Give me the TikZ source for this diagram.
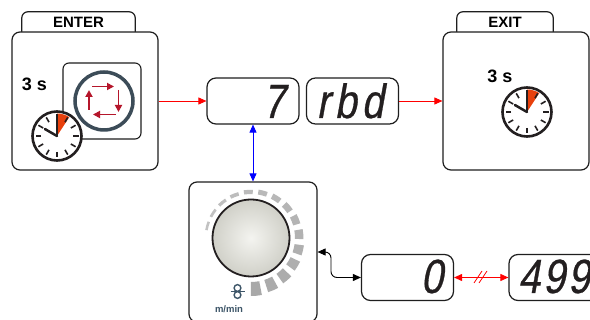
\documentclass[tikz,border=0pt]{standalone}
\usepackage{fontspec}
\setmainfont{Liberation Sans}
\newfontfamily\segfont[FakeSlant=0.18,FakeStretch=0.82,FakeBold=0.6]{Liberation Sans}
\usetikzlibrary{arrows.meta,calc}
\definecolor{clk}{HTML}{231F20}
\definecolor{wedgecol}{HTML}{E8400C}
\definecolor{slate}{HTML}{3C4C58}
\definecolor{cyc}{HTML}{B5162B}
\definecolor{wire}{HTML}{3D5568}
\definecolor{boxline}{HTML}{1E1E1E}
\definecolor{knobin}{HTML}{F4F4F0}
\definecolor{knobout}{HTML}{D0D0C8}
\tikzset{
  box/.style={draw=boxline, line width=1.2pt, rounded corners=8pt, fill=white, inner sep=0pt},
  dispbox/.style={box, minimum width=92pt, minimum height=46pt, rounded corners=9pt},
  segtext/.style={font=\segfont\fontsize{48}{48}\selectfont, text=clk, inner sep=0pt},
  tabtext/.style={font=\bfseries\fontsize{15}{15}\selectfont, inner sep=0pt, minimum height=20pt},
  tabline/.style={draw=boxline, line width=1.2pt, rounded corners=6pt},
  secs/.style={font=\bfseries\fontsize{18}{18}\selectfont, inner sep=0pt},
  redarrow/.style={draw=red, line width=0.9pt, -{Triangle[length=8pt,width=7pt]}},
  cycarrow/.style={draw=cyc, line width=1.8pt, -{Triangle[length=7pt,width=7pt]}},
  clockpic/.pic={
    \begin{scope}[x=1pt,y=1pt]
      \draw[draw=clk, line width=2.6pt, fill=white] (0,0) circle (24.5);
      \fill[wedgecol] (0,0) -- (90:22.5) arc (90:57:22.5) -- cycle;
      \foreach \a in {0,30,...,330} \draw[clk, line width=1.6pt] (\a:16) -- (\a:21.5);
      \draw[clk, line width=2.5pt, line cap=round] (0,0) -- (150:14);
      \draw[clk, line width=2pt] (0,0) -- (90:21.5);
    \end{scope}
  }
}
\begin{document}
\begin{tikzpicture}[x=1pt,y=-1pt]
\useasboundingbox (0,0) rectangle (590,320);
\fill[white] (0,0) rectangle (590,320);

% ENTER box
\node[tabtext, minimum width=113pt] (entertab) at (78.5,22) {ENTER};
\draw[tabline] (entertab.south west) -- (entertab.north west) -- (entertab.north east) -- (entertab.south east);
\node[box, minimum width=146pt, minimum height=138pt] (enter) at (85,101) {};
\node[secs] (entersec) at (34.5,84) {3 s};
\node[box, rounded corners=6pt, line width=1.1pt, minimum width=78pt, minimum height=76pt] (cycbox) at (102,101) {};
\draw[slate, line width=3.5pt] (104,101) circle (29);
\draw[cycarrow] (92,86.5) -- (114,86.5);
\draw[cycarrow] (118.5,90) -- (118.5,112);
\draw[cycarrow] (115.5,114.5) -- (93,114.5);
\draw[cycarrow] (89,110) -- (89,90);
\pic at (57,136) {clockpic};

% EXIT box
\node[tabtext, minimum width=96pt] (exittab) at (505,22) {EXIT};
\draw[tabline] (exittab.south west) -- (exittab.north west) -- (exittab.north east) -- (exittab.south east);
\node[box, minimum width=146pt, minimum height=138pt] (exit) at (516,101) {};
\node[secs] (exitsec) at (500,76) {3 s};
\pic at (527,112) {clockpic};

% displays
\node[dispbox] (disp1) at (253,101) {};
\node[segtext, anchor=base east] (d1) at (285,118) {7};
\node[dispbox] (disp2) at (352.5,101) {};
\node[segtext, anchor=base] (d2) at (350,118) {r\kern5pt b\kern5pt d};
\node[dispbox] (disp3) at (407.5,277.5) {};
\node[segtext, anchor=base east] (d3) at (443,293) {0};
\node[dispbox] (disp4) at (555,277.5) {};
\node[segtext, anchor=base west] (d4) at (518,293) {4\kern3pt 9\kern3pt 9};

% knob box
\node[box, minimum width=128pt, minimum height=140pt] (knob) at (253,252) {};
\begin{scope}[shift={(251,238)}, y=1pt]
  \foreach \i in {0,...,14} {
    \pgfmathsetmacro\aa{170-\i*17.8}
    \pgfmathsetmacro\ab{\aa-11}
    \pgfmathsetmacro\w{2.5+11.5*(\i/14)^1.5}
    \pgfmathsetmacro\ro{44+\w}
    \pgfmathtruncatemacro\g{48+20*\i/14}
    \fill[gray!\g] (\aa:44) arc (\aa:\ab:44) -- (\ab:\ro) arc (\ab:\aa:\ro) -- cycle;
  }
  \shade[inner color=knobin, outer color=knobout] (0,0) circle (38.5);
  \draw[clk, line width=1.8pt] (0,0) circle (38.5);
\end{scope}
\draw[wire, line width=1.4pt] (237.5,288) circle (3.4) (237.5,295) circle (3.4);
\draw[wire, line width=1.4pt] (230.5,291.5) -- (244.5,291.5);
\node[font=\bfseries\fontsize{9.5}{9.5}\selectfont, text=wire, inner sep=0pt] (unit) at (229,309.5) {m/min};

% connectors
\draw[redarrow] (enter.east) -- (disp1.west);
\draw[redarrow] (disp2.east) -- (exit.west);
\draw[blue, line width=0.9pt, {Triangle[length=8pt,width=7pt]}-{Triangle[length=8pt,width=7pt]}] (disp1.south) -- (knob.north);
\draw[black, line width=0.9pt, rounded corners=6pt, {Triangle[length=8pt,width=7pt]}-{Triangle[length=8pt,width=7pt]}] (knob.east) -- (331,252) -- (331,277.5) -- (disp3.west);
\draw[red, line width=0.9pt, {Triangle[length=8pt,width=7pt]}-{Triangle[length=8pt,width=7pt]}] (disp3.east) -- (disp4.west);
\draw[red, line width=0.8pt] (474,283) -- (482,271) (479,283) -- (487,271);
\end{tikzpicture}
\end{document}
